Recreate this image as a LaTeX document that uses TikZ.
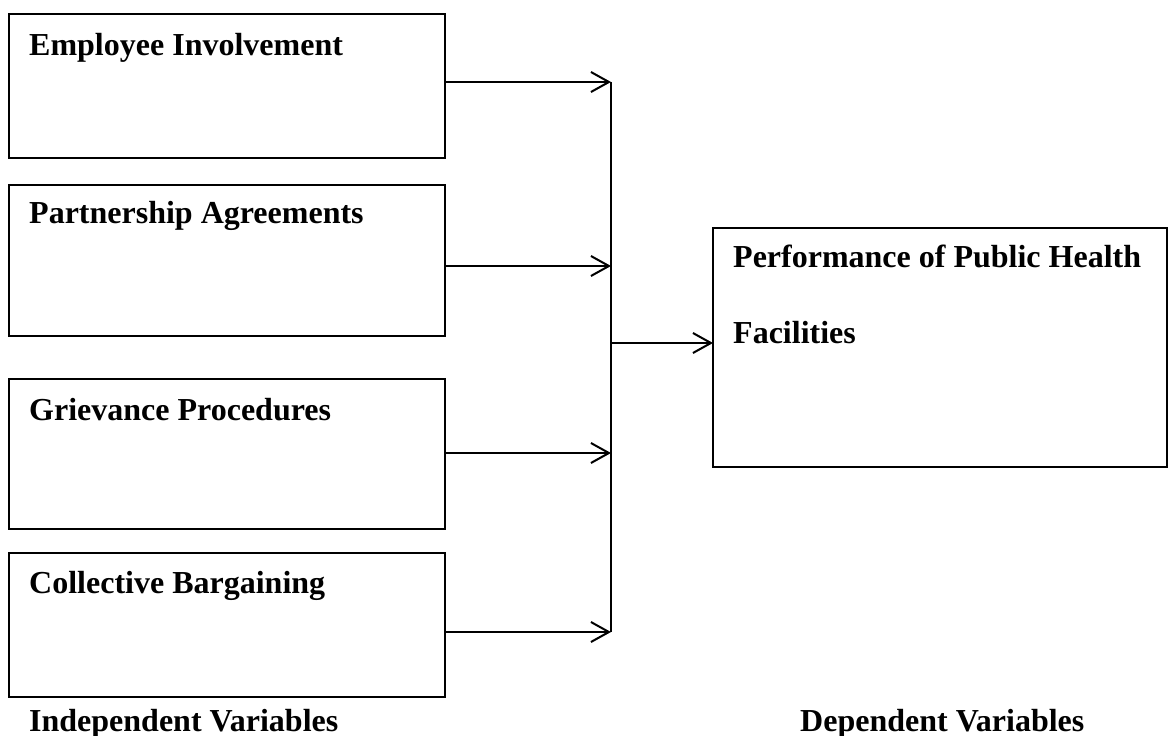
\documentclass[tikz,border=0pt]{standalone}
\usepackage{fontspec}
\setmainfont{Liberation Serif}
\usetikzlibrary{arrows.meta}
\begin{document}
\begin{tikzpicture}[x=1pt,y=-1pt,
  box/.style={draw=black,line width=2pt,rectangle,inner sep=0pt,outer sep=0pt},
  lbl/.style={anchor=base west,inner sep=0pt,font=\fontsize{32}{38}\selectfont\bfseries},
  arr/.style={line width=2pt,-{Straight Barb[length=18pt,width=20pt,line width=2pt]}},
  bus/.style={line width=1.3pt}]
\useasboundingbox (0,0) rectangle (1168,736);
% independent variable boxes
\node[box,minimum width=436pt,minimum height=144pt] (b1) at (227,86) {};
\node[box,minimum width=436pt,minimum height=151pt] (b2) at (227,260.5) {};
\node[box,minimum width=436pt,minimum height=150pt] (b3) at (227,454) {};
\node[box,minimum width=436pt,minimum height=144pt] (b4) at (227,625) {};
\node[lbl] (t1) at (29,55) {Employee Involvement};
\node[lbl] (t2) at (29,223) {Partnership Agreements};
\node[lbl] (t3) at (29,420) {Grievance Procedures};
\node[lbl] (t4) at (29,593) {Collective Bargaining};
% dependent box
\node[box,minimum width=454pt,minimum height=239pt] (d) at (940,347.5) {};
\node[lbl] (td1) at (733,267) {Performance of Public Health};
\node[lbl] (td2) at (733,343) {Facilities};
% captions
\node[lbl] (cap1) at (29,731) {Independent Variables};
\node[lbl] (cap2) at (800,731) {Dependent Variables};
% bus coordinates
\coordinate (a1) at (611,82);
\coordinate (a2) at (611,266);
\coordinate (a3) at (611,453);
\coordinate (a4) at (611,632);
\coordinate (am) at (611,343);
\draw[bus] (a1) -- (a4);
\draw[arr] (b1.east |- a1) -- (a1);
\draw[arr] (b2.east |- a2) -- (a2);
\draw[arr] (b3.east |- a3) -- (a3);
\draw[arr] (b4.east |- a4) -- (a4);
\draw[arr] (am) -- (d.west |- am);
\end{tikzpicture}
\end{document}
